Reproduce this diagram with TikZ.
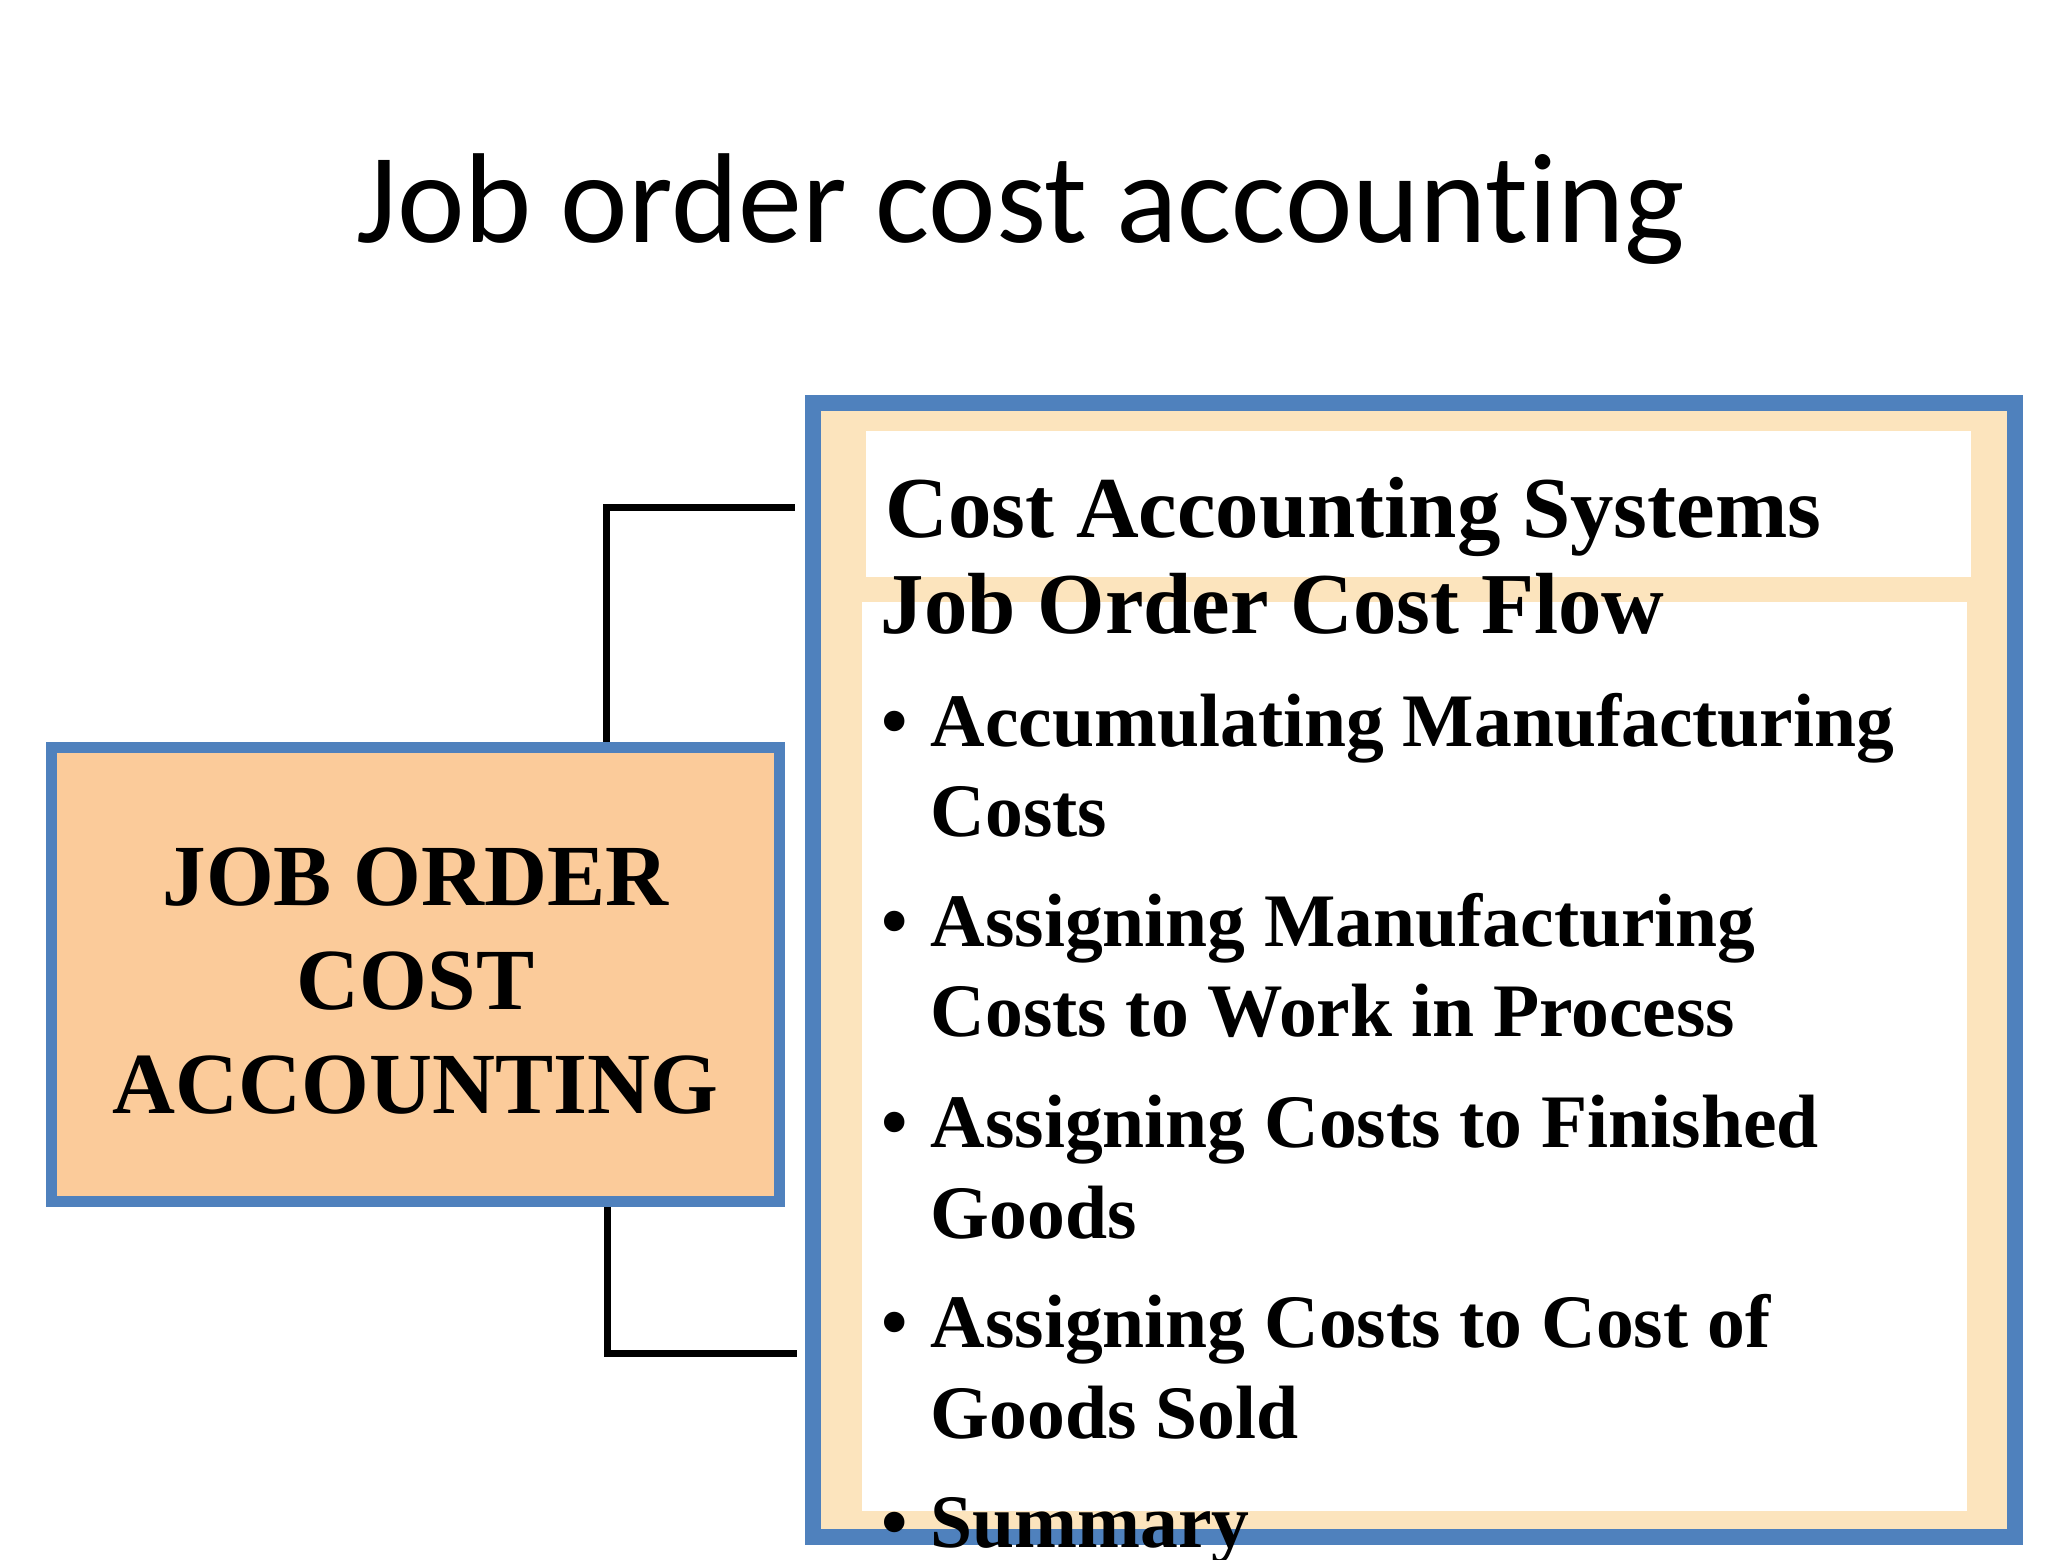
\documentclass[tikz,border=0pt]{standalone}
\usepackage{fontspec}
\setmainfont{Liberation Serif}
\newfontfamily\titlefont{Carlito}[Ligatures=NoCommon]
\usepackage{xcolor}
\usepackage{tikz}
\usetikzlibrary{calc}
\definecolor{frameblue}{HTML}{4F81BD}
\definecolor{peach}{HTML}{FBCB9A}
\definecolor{sand}{HTML}{FCE4BD}
\tikzset{
  headline/.style={font=\titlefont\fontsize{36.4}{43}\selectfont, inner sep=0pt, anchor=base},
  jobbox/.style={draw=frameblue, fill=peach, line width=1.1mm, minimum width=7.28cm, minimum height=4.54cm, inner sep=0pt},
  jobtext/.style={align=center, inner sep=0pt, font=\bfseries\fontsize{24.8}{29.6}\selectfont},
  framebox/.style={draw=frameblue, fill=sand, line width=1.6mm, minimum width=12.02cm, minimum height=11.34cm, inner sep=0pt},
  panel/.style={fill=white, inner sep=0pt, minimum width=11.05cm},
  link/.style={draw=black, line width=0.7mm},
  head/.style={font=\bfseries\fontsize{24.7}{29}\selectfont, anchor=base west, inner sep=0pt},
  item/.style={font=\bfseries\fontsize{21.5}{26}\selectfont, anchor=base west, inner sep=0pt},
  dotitem/.style={item, anchor=base}
}
\begin{document}
\begin{tikzpicture}
  \useasboundingbox (0,0) rectangle (20.48,15.60);
  \clip (0,0) rectangle (20.48,15.60);
  \node[headline] (title) at (10.21,13.17) {Job order cost accounting};
  % left box
  \node[jobbox] (job) at (4.155,5.855) {};
  \node[jobtext] (jobtxt) at ([yshift=-0.07cm]job.center) {JOB ORDER\\COST\\ACCOUNTING};
  % right frame and its two panels
  \node[framebox] (frame) at (14.14,5.90) {};
  \node[panel, minimum height=1.46cm] (sys) at (14.185,10.56) {};
  \node[panel, minimum height=9.09cm] (flow) at (14.145,5.035) {};
  % connectors
  \coordinate (c1) at (6.06,10.52);
  \coordinate (c2) at (6.07,2.06);
  \draw[link, shorten >=1mm] (job.north -| c1) |- (frame.west |- c1);
  \draw[link, shorten >=0.8mm] (job.south -| c2) |- (frame.west |- c2);
  % texts
  \node[head] (hsys) at (8.85,10.22) {Cost Accounting Systems};
  \node[head] (hflow) at (8.80,9.26) {Job Order Cost Flow};
  \node[dotitem] (d1) at (8.95,8.13) {•};
  \node[item] (i1a) at (9.30,8.13) {Accumulating Manufacturing};
  \node[item] (i1b) at (9.30,7.23) {Costs};
  \node[dotitem] (d2) at (8.95,6.13) {•};
  \node[item] (i2a) at (9.30,6.13) {Assigning Manufacturing};
  \node[item] (i2b) at (9.30,5.23) {Costs to Work in Process};
  \node[dotitem] (d3) at (8.95,4.12) {•};
  \node[item] (i3a) at (9.30,4.12) {Assigning Costs to Finished};
  \node[item] (i3b) at (9.30,3.21) {Goods};
  \node[dotitem] (d4) at (8.95,2.12) {•};
  \node[item] (i4a) at (9.30,2.12) {Assigning Costs to Cost of};
  \node[item] (i4b) at (9.30,1.21) {Goods Sold};
  \node[dotitem] (d5) at (8.95,0.12) {•};
  \node[item] (i5) at (9.30,0.12) {Summary};
\end{tikzpicture}
\end{document}
